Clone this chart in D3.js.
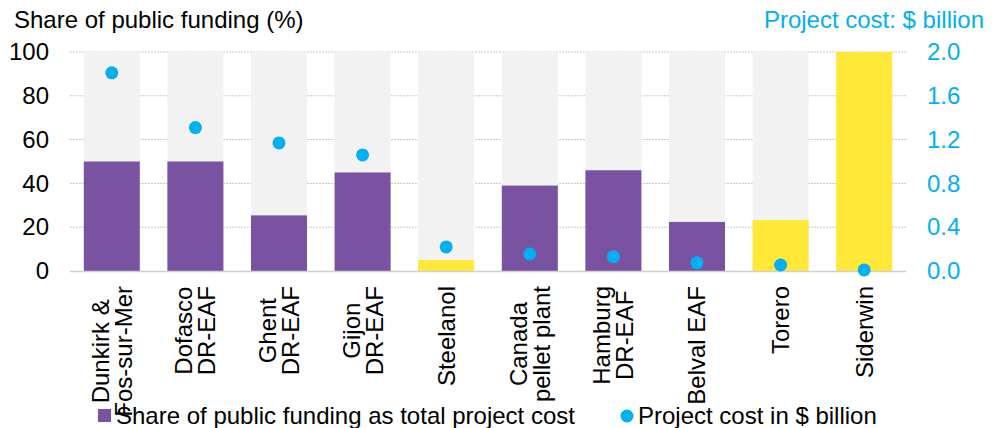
<!DOCTYPE html>
<html>
<head>
<meta charset="utf-8">
<script src="https://cdn.jsdelivr.net/npm/d3@7"></script>
<style>
  body { margin: 0; background: #fff; }
  svg { font-family: "Liberation Sans", Arial, sans-serif; }
</style>
</head>
<body>
<svg id="chart" width="1000" height="428"></svg>
<script>
// data
const projects = [
  ['Dunkirk &', 'Fos-sur-Mer'],
  ['Dofasco', 'DR-EAF'],
  ['Ghent', 'DR-EAF'],
  ['Gijon', 'DR-EAF'],
  ['Steelanol'],
  ['Canada', 'pellet plant'],
  ['Hamburg', 'DR-EAF'],
  ['Belval EAF'],
  ['Torero'],
  ['Siderwin']
];
const publicShare = [50, 50, 25.4, 45, 5, 39, 46, 22.4, 23.3, 100];
const projectCost = [1.81, 1.31, 1.17, 1.06, 0.22, 0.155, 0.13, 0.075, 0.055, 0.01];
const barGroup = ['a', 'a', 'a', 'a', 'b', 'a', 'a', 'a', 'b', 'b'];
const leftTicks = [0, 20, 40, 60, 80, 100];
const rightTicks = [0, 0.4, 0.8, 1.2, 1.6, 2.0];

const purple = '#7953a1',
  yellow = '#ffe838',
  blue = '#00b0f0',
  track = '#f2f2f2';
const groupColor = {a: purple, b: yellow};
const fs = 24;

const margin = {top: 52, right: 94, bottom: 157, left: 70};
const width = 1000 - margin.left - margin.right,
  height = 428 - margin.top - margin.bottom;

const svg = d3.select('#chart');
const chart = svg.append('g')
  .attr('transform', `translate(${margin.left}, ${margin.top})`);

const idx = d3.range(projects.length);
const x = d3.scaleBand().domain(idx).range([0, width]).paddingInner(0.33).paddingOuter(0.165);
const y = d3.scaleLinear().domain([0, 100]).range([height, 0]);
const y2 = d3.scaleLinear().domain([0, 2]).range([height, 0]);

// gridlines
chart.append('g')
  .selectAll('line')
  .data(leftTicks.slice(1))
  .join('line')
  .attr('x1', 0).attr('x2', width)
  .attr('y1', d => y(d)).attr('y2', d => y(d))
  .attr('stroke', '#c8c8c8')
  .attr('stroke-width', 1)
  .attr('stroke-dasharray', '2,1');

// background tracks
chart.append('g')
  .selectAll('rect')
  .data(idx)
  .join('rect')
  .attr('x', i => x(i))
  .attr('width', x.bandwidth())
  .attr('y', y(100))
  .attr('height', y(0) - y(100))
  .attr('fill', track);

// bars
chart.append('g')
  .selectAll('rect')
  .data(idx)
  .join('rect')
  .attr('x', i => x(i))
  .attr('width', x.bandwidth())
  .attr('y', i => y(publicShare[i]))
  .attr('height', i => y(0) - y(publicShare[i]))
  .attr('fill', i => groupColor[barGroup[i]]);

// baseline
chart.append('line')
  .attr('x1', 0).attr('x2', width)
  .attr('y1', height + 0.5).attr('y2', height + 0.5)
  .attr('stroke', '#d0d0d0')
  .attr('stroke-width', 1.5);

// cost dots
chart.append('g')
  .selectAll('circle')
  .data(idx)
  .join('circle')
  .attr('cx', i => x(i) + x.bandwidth() / 2)
  .attr('cy', i => y2(projectCost[i]))
  .attr('r', 6.5)
  .attr('fill', blue);

// left axis
const leftAxis = chart.append('g')
  .call(d3.axisLeft(y).tickValues(leftTicks).tickSize(0).tickPadding(21));
leftAxis.select('.domain').remove();
leftAxis.selectAll('text')
  .attr('font-size', fs)
  .attr('font-family', '"Liberation Sans", Arial, sans-serif')
  .attr('fill', '#000');

// right axis
const rightAxis = chart.append('g')
  .attr('transform', `translate(${width}, 0)`)
  .call(d3.axisRight(y2).tickValues(rightTicks).tickFormat(d3.format('.1f')).tickSize(0).tickPadding(21));
rightAxis.select('.domain').remove();
rightAxis.selectAll('text')
  .attr('font-size', fs)
  .attr('font-family', '"Liberation Sans", Arial, sans-serif')
  .attr('fill', blue);

// axis titles
svg.append('text')
  .attr('x', 14).attr('y', 28)
  .attr('font-size', fs)
  .text('Share of public funding (%)');
svg.append('text')
  .attr('x', 984).attr('y', 28)
  .attr('text-anchor', 'end')
  .attr('font-size', fs)
  .attr('fill', blue)
  .text('Project cost: $ billion');

// rotated category labels, top-aligned block, lines centred
const lineH = 23;
const labels = chart.append('g')
  .selectAll('g')
  .data(idx)
  .join('g')
  .attr('transform', i => `translate(${x(i) + x.bandwidth() / 2}, ${height + 15}) rotate(-90)`);

labels.each(function(i) {
  const g = d3.select(this);
  const lines = projects[i];
  const texts = g.selectAll('text')
    .data(lines)
    .join('text')
    .attr('font-size', fs)
    .attr('text-anchor', 'middle')
    .attr('dy', '0.35em')
    .attr('y', (d, k) => (k - (lines.length - 1) / 2) * lineH)
    .text(d => d);
  const maxLen = d3.max(texts.nodes(), n => n.getComputedTextLength());
  texts.attr('x', -maxLen / 2);
});

// legend
const legend = svg.append('g').attr('transform', 'translate(0, 416)');
legend.append('rect')
  .attr('x', 98).attr('y', -7)
  .attr('width', 13).attr('height', 13)
  .attr('fill', purple);
legend.append('text')
  .attr('x', 116).attr('y', 0)
  .attr('dy', '0.35em')
  .attr('font-size', fs)
  .text('Share of public funding as total project cost');
legend.append('circle')
  .attr('cx', 627).attr('cy', 0)
  .attr('r', 6.5)
  .attr('fill', blue);
legend.append('text')
  .attr('x', 638).attr('y', 0)
  .attr('dy', '0.35em')
  .attr('font-size', fs)
  .text('Project cost in $ billion');
</script>
</body>
</html>
